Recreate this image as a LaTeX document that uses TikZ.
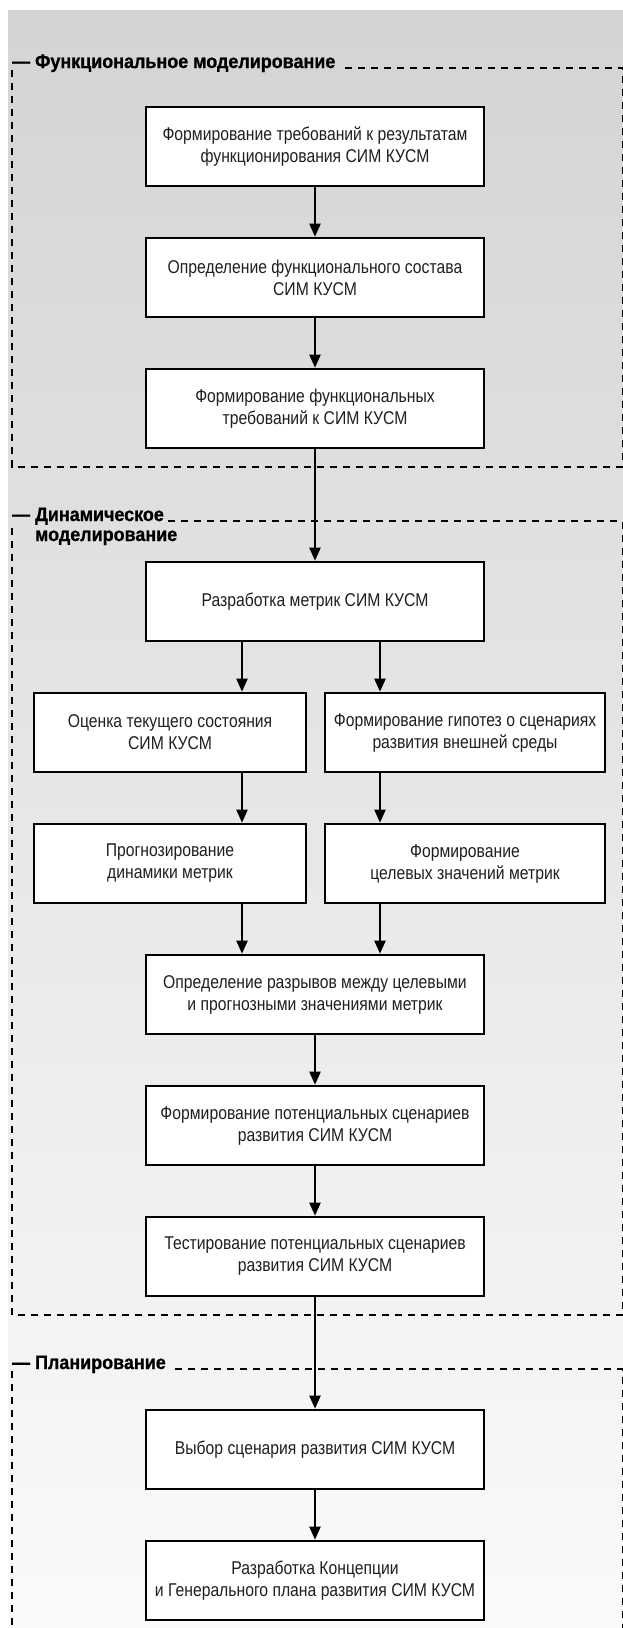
\documentclass[tikz,border=0pt]{standalone}
\usepackage{fontspec}
\setmainfont{Liberation Sans}[FakeStretch=0.85]
\usetikzlibrary{arrows.meta,calc}
\begin{document}
\begin{tikzpicture}[x=1pt,y=-1pt,
  box/.style={draw=black, line width=2.6pt, fill=white, minimum height=79pt, align=center,
    font=\fontsize{18.5}{22}\selectfont, text=black!88, inner sep=0pt},
  cbox/.style={box, minimum width=338pt},
  lbox/.style={box, minimum width=272pt},
  rbox/.style={box, minimum width=280pt},
  arr/.style={line width=2pt, -{Triangle[length=13pt,width=11pt]}},
  frameline/.style={line width=2pt, dash pattern=on 7pt off 6pt},
  ttl/.style={font=\fontsize{19.5}{22}\selectfont\bfseries\addfontfeatures{FakeStretch=0.92,FakeBold=0.8}, inner sep=0pt, anchor=base west}
]
\useasboundingbox (0,0) rectangle (623,1628);
\fill[white] (0,0) rectangle (623,1628);
\shade[top color=black!17, bottom color=black!2] (8,10) rectangle (623,1628);

% frames
\node[ttl] (t1) at (12,68) {— Функциональное моделирование};
\draw[frameline] ([xshift=9pt]t1.base east) -- (622.5,68) -- (622.5,467) -- (12,467) -- (12,70);

\node[ttl] (t2) at (12,521) {— Динамическое};
\node[ttl] (t2b) at (12,541) {\hphantom{— }моделирование};
\draw[frameline] ([xshift=4pt]t2.base east) -- (622.5,521) -- (622.5,1315) -- (12,1315) -- (12,523);

\node[ttl] (t3) at (12,1369) {— Планирование};
\draw[frameline] ([xshift=9pt]t3.base east) -- (622.5,1369) -- (622.5,1640);
\draw[frameline] (12,1371) -- (12,1640);

% boxes
\node[cbox] (b1) at (315,146.5) {Формирование требований к результатам\\функционирования СИМ КУСМ};
\node[cbox] (b2) at (315,277.5) {Определение функционального состава\\СИМ КУСМ};
\node[cbox] (b3) at (315,408.5) {Формирование функциональных\\требований к СИМ КУСМ};
\node[cbox] (b4) at (315,601.5) {Разработка метрик СИМ КУСМ};
\node[lbox] (b5) at (170,732.5) {Оценка текущего состояния\\СИМ КУСМ};
\node[rbox] (b6) at (465,732.5) {Формирование гипотез о сценариях\\развития внешней среды};
\node[lbox] (b7) at (170,863.5) {Прогнозирование\\динамики метрик};
\node[rbox] (b8) at (465,863.5) {Формирование\\целевых значений метрик};
\node[cbox] (b9) at (315,994.5) {Определение разрывов между целевыми\\и прогнозными значениями метрик};
\node[cbox] (b10) at (315,1125.5) {Формирование потенциальных сценариев\\развития СИМ КУСМ};
\node[cbox] (b11) at (315,1256.5) {Тестирование потенциальных сценариев\\развития СИМ КУСМ};
\node[cbox] (b12) at (315,1449.5) {Выбор сценария развития СИМ КУСМ};
\node[cbox] (b13) at (315,1580.5) {Разработка Концепции\\и Генерального плана развития СИМ КУСМ};

\coordinate (xl) at (242,0);
\coordinate (xr) at (380,0);

% arrows
\draw[arr] (b1) -- (b2);
\draw[arr] (b2) -- (b3);
\draw[arr] (b3) -- (b4);
\draw[arr] (b4.south -| xl) -- (b5.north -| xl);
\draw[arr] (b4.south -| xr) -- (b6.north -| xr);
\draw[arr] (b5.south -| xl) -- (b7.north -| xl);
\draw[arr] (b6.south -| xr) -- (b8.north -| xr);
\draw[arr] (b7.south -| xl) -- (b9.north -| xl);
\draw[arr] (b8.south -| xr) -- (b9.north -| xr);
\draw[arr] (b9) -- (b10);
\draw[arr] (b10) -- (b11);
\draw[arr] (b11) -- (b12);
\draw[arr] (b12) -- (b13);
\end{tikzpicture}
\end{document}
